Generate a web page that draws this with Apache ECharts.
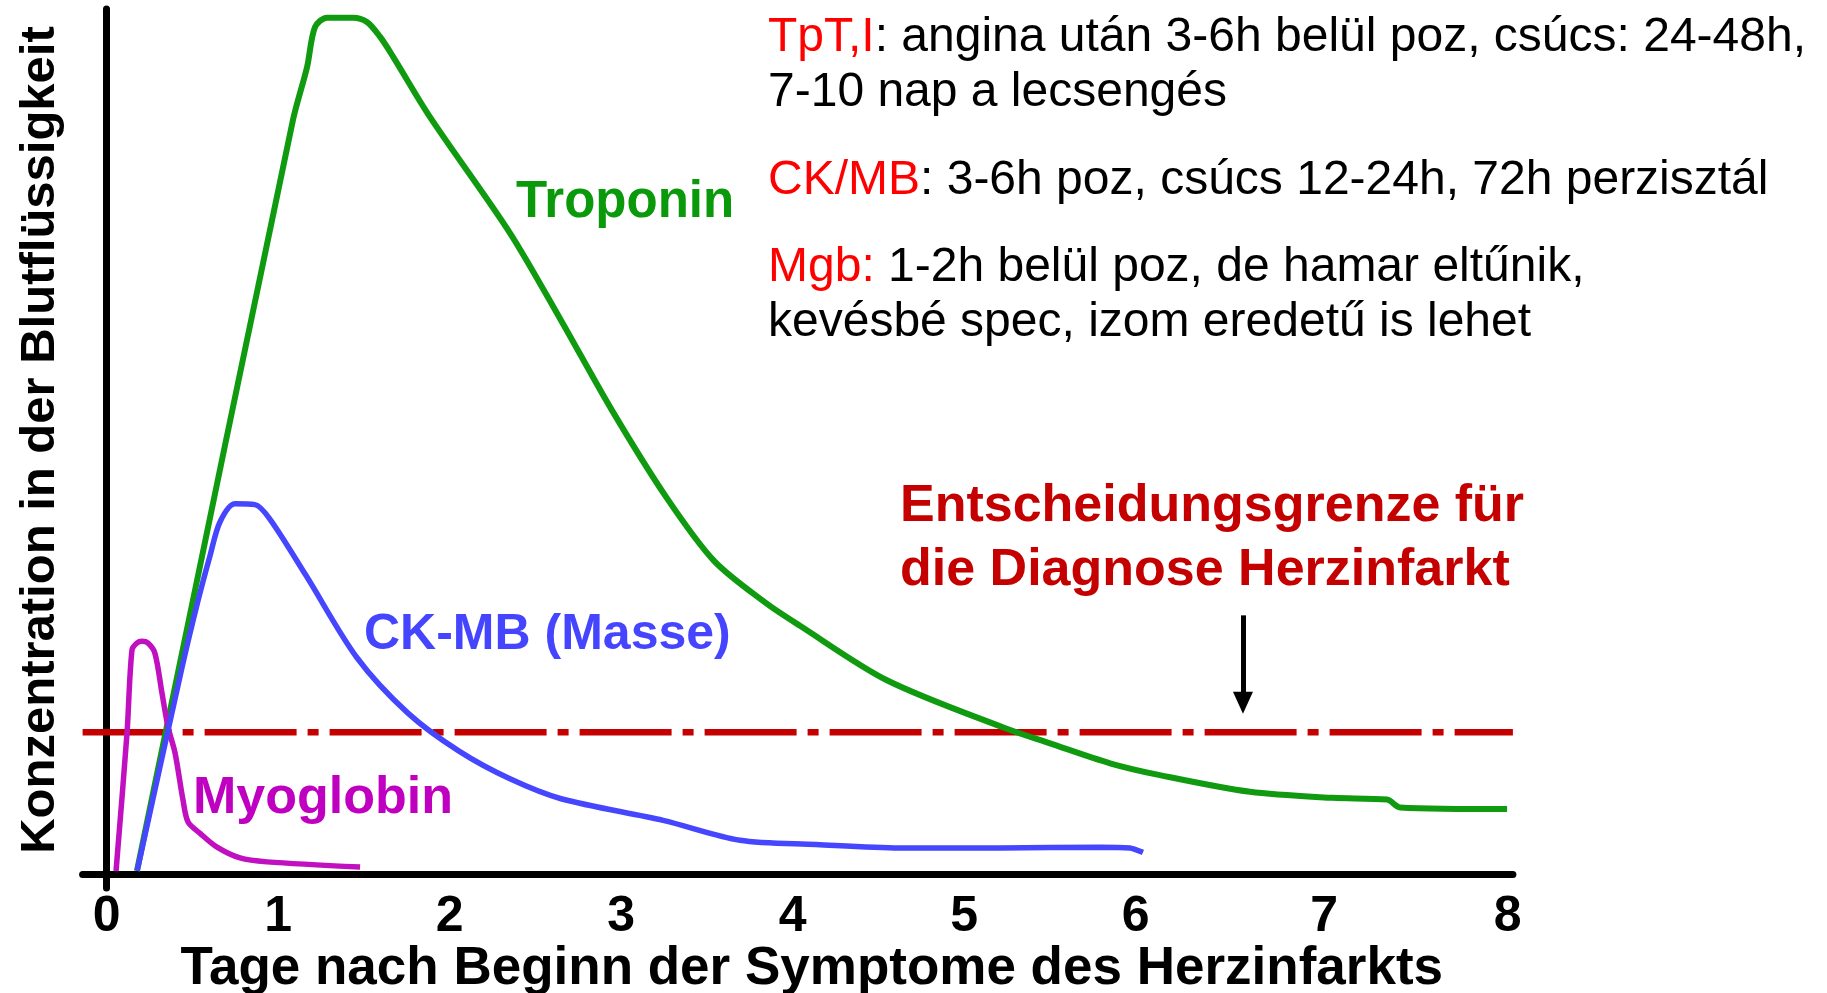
<!DOCTYPE html>
<html>
<head>
<meta charset="utf-8">
<title>Herzinfarkt Marker</title>
<script src="https://cdn.jsdelivr.net/npm/echarts@6.0.0/dist/echarts.min.js"></script>
<style>
    html, body { margin: 0; padding: 0; background: #fff; }
    #chartmain { width: 1827px; height: 993px; }
</style>
</head>
<body>
<div id="chartmain"></div>
<script>
// Tage nach Beginn (x) / relative Konzentration (y)
var tropX = [0.177, 1.087, 1.169, 1.215, 1.285, 1.437, 1.518, 1.594, 1.670, 1.886, 2.352, 2.650, 2.947, 3.262, 3.542, 3.839, 4.043, 4.550, 5.233, 5.501, 5.851, 6.148, 6.667, 7.151, 7.466, 7.542, 8.166];
var tropY = [0.35, 87.2, 93.3, 97.9, 99.0, 99.0, 98.5, 96.8, 94.5, 87.5, 74.1, 64.0, 53.6, 43.6, 36.2, 31.4, 28.7, 22.4, 16.9, 15.1, 12.8, 11.4, 9.5, 8.8, 8.6, 7.7, 7.5];

var ckmbX = [0.178, 0.440, 0.533, 0.603, 0.661, 0.749, 0.865, 0.953, 1.163, 1.460, 1.757, 2.055, 2.352, 2.650, 3.245, 3.693, 4.137, 4.626, 5.209, 5.792, 5.967, 6.043];
var ckmbY = [0.35, 23.9, 31.6, 36.8, 40.7, 42.8, 42.7, 41.0, 34.5, 25.0, 18.6, 14.2, 11.0, 8.7, 6.2, 3.9, 3.4, 3.0, 3.0, 3.1, 3.0, 2.5];

var myoX = [0.055, 0.119, 0.148, 0.177, 0.206, 0.241, 0.282, 0.323, 0.358, 0.399, 0.445, 0.475, 0.545, 0.644, 0.778, 0.935, 1.478];
var myoY = [0.35, 16.3, 25.9, 26.7, 26.9, 26.7, 25.5, 20.9, 17.0, 14.0, 8.6, 6.0, 4.7, 3.1, 1.85, 1.4, 0.8];

// Entscheidungsgrenze + Pfeil
var limitX = [-0.14, 8.2];
var limitY = [16.4, 16.4];
var arrowX = [6.626, 6.626];
var arrowY = [29.9, 19.8];

// Achsenbeschriftung (7 und 8 sitzen im Original etwas weiter rechts)
var tickValues = [0, 1, 2, 3, 4, 5, 6, 7.1, 8.17];
var tickLabels = ['0', '1', '2', '3', '4', '5', '6', '7', '8'];

var noteLines = [
    ['TpT,I', ': angina után 3-6h belül poz, csúcs: 24-48h,'],
    ['', '7-10 nap a lecsengés'],
    ['CK/MB', ': 3-6h poz, csúcs 12-24h, 72h perzisztál'],
    ['Mgb:', ' 1-2h belül poz, de hamar eltűnik,'],
    ['', 'kevésbé spec, izom eredetű is lehet']
];
var noteTop = [38, 93, 181, 268, 323];

var FONT = "'Liberation Sans', Arial, Helvetica, sans-serif";

function pairs(xs, ys) {
    var out = [];
    for (var i = 0; i < xs.length; i++) {
        out.push([xs[i], ys[i]]);
    }
    return out;
}

function tickText(v) {
    for (var i = 0; i < tickValues.length; i++) {
        if (Math.abs(tickValues[i] - v) < 1e-6) return tickLabels[i];
    }
    return '';
}

function boldLabel(text, x, y, color, size) {
    return {
        type: 'text', x: x, y: y, silent: true,
        style: {
            text: text, fill: color, fontSize: size, fontWeight: 'bold',
            fontFamily: FONT, align: 'left', verticalAlign: 'middle'
        }
    };
}

function buildNotes() {
    var list = [];
    for (var i = 0; i < noteLines.length; i++) {
        var red = noteLines[i][0], black = noteLines[i][1];
        var txt = (red ? '{r|' + red + '}' : '') + '{k|' + black + '}';
        list.push({
            type: 'text', x: 768, y: noteTop[i], silent: true,
            style: {
                text: txt, fontSize: 48, fontFamily: FONT, align: 'left', verticalAlign: 'middle',
                rich: {
                    r: {fill: '#ff0000', fontSize: 48, fontFamily: FONT},
                    k: {fill: '#000000', fontSize: 48, fontFamily: FONT}
                }
            }
        });
    }
    return list;
}

var graphics = buildNotes().concat([
    boldLabel('Troponin', 516, 203, '#0a990a', 51),
    boldLabel('CK-MB (Masse)', 364, 635, '#4545ff', 50),
    boldLabel('Myoglobin', 193, 799, '#c000c0', 52),
    boldLabel('Entscheidungsgrenze für', 900, 507, '#c40000', 52),
    boldLabel('die Diagnose Herzinfarkt', 900, 571, '#c40000', 52)
]);

var option = {
    animation: false,
    backgroundColor: '#ffffff',
    grid: {left: 82.6, right: 314.1, top: 9, bottom: 105, containLabel: false, outerBoundsMode: 'none'},
    xAxis: {
        type: 'value', min: -0.14, max: 8.2,
        axisLine: {onZero: true, lineStyle: {color: '#000', width: 7}},
        axisTick: {show: false},
        splitLine: {show: false},
        axisLabel: {
            customValues: tickValues,
            formatter: tickText,
            fontSize: 50, fontWeight: 'bold', fontFamily: FONT, color: '#000', margin: 4
        },
        name: 'Tage nach Beginn der Symptome des Herzinfarkts',
        nameLocation: 'middle', nameGap: 55, nameMoveOverlap: false,
        nameTextStyle: {fontSize: 53, fontWeight: 'bold', fontFamily: FONT, color: '#000', padding: [0, 0, 0, 28]}
    },
    yAxis: {
        type: 'value', min: -1.62, max: 100,
        axisLine: {onZero: true, lineStyle: {color: '#000', width: 7}},
        axisTick: {show: false},
        axisLabel: {show: false},
        splitLine: {show: false},
        name: 'Konzentration in der Blutflüssigkeit',
        nameLocation: 'middle', nameGap: 18,
        nameTextStyle: {fontSize: 49, fontWeight: 'bold', fontFamily: FONT, color: '#000', padding: [0, 0, 0, 17]}
    },
    graphic: graphics,
    series: [
        {
            name: 'Entscheidungsgrenze', type: 'line', z: 1,
            data: pairs(limitX, limitY), symbol: 'none', silent: true,
            lineStyle: {color: '#c40000', width: 6.5, type: [92, 11, 11, 11], dashOffset: 3},
            markLine: {
                silent: true, animation: false,
                symbol: ['none', 'triangle'], symbolSize: [20, 22],
                label: {show: false},
                lineStyle: {color: '#000', width: 5, type: 'solid'},
                data: [[{coord: [arrowX[0], arrowY[0]]}, {coord: [arrowX[1], arrowY[1]]}]]
            }
        },
        {
            name: 'Troponin', type: 'line', z: 2,
            data: pairs(tropX, tropY), symbol: 'none', smooth: 0.3,
            lineStyle: {color: '#109a10', width: 6}
        },
        {
            name: 'Myoglobin', type: 'line', z: 3,
            data: pairs(myoX, myoY), symbol: 'none', smooth: 0.3,
            lineStyle: {color: '#c010c0', width: 5.5}
        },
        {
            name: 'CK-MB', type: 'line', z: 4,
            data: pairs(ckmbX, ckmbY), symbol: 'none', smooth: 0.3,
            lineStyle: {color: '#4646ff', width: 5.5}
        }
    ]
};

var myChart = echarts.init(document.getElementById('chartmain'));
myChart.setOption(option);
</script>
</body>
</html>
